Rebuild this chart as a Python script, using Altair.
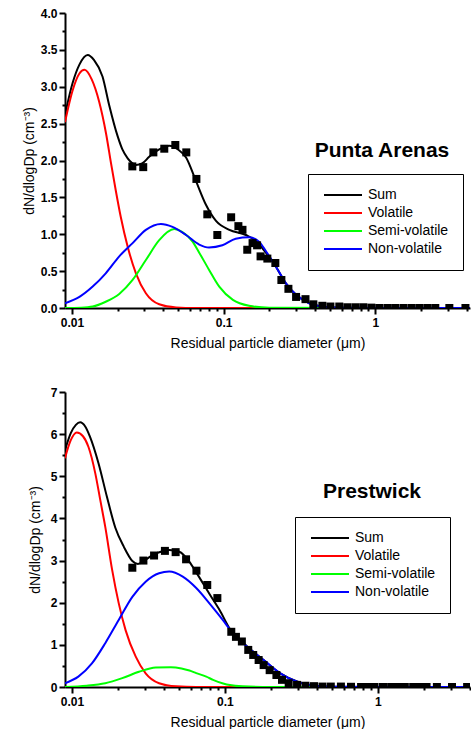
import altair as alt
import pandas as pd

FONT = "Liberation Sans"
SERIES = ["Sum", "Volatile", "Semi-volatile", "Non-volatile"]
COLORS = ["#000000", "#ff0000", "#00ff00", "#0000ff"]
X_TITLE = "Residual particle diameter (\u03bcm)"
Y_TITLE = "dN/dlogDp (cm\u207b\u00b3)"
X_MAJOR = [0.01, 0.1, 1]
X_MINOR = [0.02, 0.03, 0.04, 0.05, 0.06, 0.07, 0.08, 0.09,
           0.2, 0.3, 0.4, 0.5, 0.6, 0.7, 0.8, 0.9, 2, 3, 4]

# ---------------- Punta Arenas ----------------
pa_sum_d = [0.009, 0.0101, 0.0112, 0.0127, 0.0140, 0.0159, 0.0176, 0.0200, 0.0215, 0.0233,
            0.0248, 0.0264, 0.0290, 0.0323, 0.0376, 0.0438, 0.0500, 0.0565, 0.0657, 0.0764,
            0.089, 0.109, 0.140, 0.163, 0.180, 0.221, 0.257, 0.300, 0.367, 0.472, 0.60, 1.0, 4.3]
pa_sum_y = [2.62, 3.05, 3.30, 3.43, 3.36, 3.14, 2.75, 2.33, 2.15, 2.03,
            1.97, 1.94, 1.96, 2.05, 2.15, 2.20, 2.15, 2.04, 1.72, 1.40,
            1.18, 1.06, 0.99, 0.91, 0.81, 0.56, 0.335, 0.18, 0.064, 0.012, 0.002, 0.0, 0.0]
pa_vol_d = [0.009, 0.0101, 0.0112, 0.0121, 0.0135, 0.0151, 0.0168, 0.0181, 0.0195, 0.0210,
            0.0233, 0.0264, 0.0307, 0.0376, 0.0485, 0.065, 4.3]
pa_vol_y = [2.52, 2.95, 3.18, 3.23, 3.10, 2.80, 2.36, 1.96, 1.58, 1.23,
            0.83, 0.47, 0.20, 0.05, 0.008, 0.0, 0.0]
pa_semi_d = [0.009, 0.0115, 0.0137, 0.0167, 0.0205, 0.0251, 0.0307, 0.0376, 0.0472, 0.0535,
             0.0624, 0.069, 0.080, 0.0935, 0.115, 0.147, 0.20, 4.3]
pa_semi_y = [0.0, 0.005, 0.02, 0.085, 0.19, 0.38, 0.65, 0.92, 1.07, 1.03,
             0.90, 0.75, 0.52, 0.29, 0.11, 0.03, 0.003, 0.0]
pa_non_d = [0.009, 0.0112, 0.0137, 0.0167, 0.0205, 0.0251, 0.0307, 0.0386, 0.046, 0.0565,
            0.069, 0.080, 0.098, 0.120, 0.147, 0.171, 0.190, 0.221, 0.257, 0.300,
            0.367, 0.472, 0.60, 1.0, 4.3]
pa_non_y = [0.064, 0.15, 0.29, 0.47, 0.70, 0.88, 1.06, 1.14, 1.10, 0.99,
            0.86, 0.82, 0.85, 0.94, 0.96, 0.90, 0.77, 0.56, 0.335, 0.18,
            0.064, 0.012, 0.002, 0.0, 0.0]
pa_pts_d = [0.0250, 0.0295, 0.0344, 0.0406, 0.048, 0.0567, 0.0661, 0.078, 0.0908, 0.112,
            0.125, 0.133, 0.143, 0.155, 0.166, 0.175, 0.194, 0.219, 0.240, 0.267,
            0.300, 0.346, 0.390, 0.447, 0.505, 0.578, 0.653, 0.738, 0.832, 0.940,
            1.06, 1.20, 1.35, 1.53, 1.73, 1.95, 2.20, 2.48, 3.07, 3.92]
pa_pts_y = [1.92, 1.91, 2.11, 2.16, 2.21, 2.11, 1.75, 1.27, 0.99, 1.23,
            1.11, 1.06, 0.79, 0.88, 0.85, 0.70, 0.67, 0.61, 0.38, 0.26,
            0.15, 0.12, 0.05, 0.03, 0.02, 0.02, 0.01, 0.01, 0.01, 0.005,
            0.0, 0.0, 0.0, 0.0, 0.0, 0.0, 0.0, 0.0, 0.0, 0.0]

# ---------------- Prestwick ----------------
pw_sum_d = [0.009, 0.0098, 0.0106, 0.0113, 0.0122, 0.0131, 0.0149, 0.0169, 0.0192, 0.0218,
            0.0248, 0.0270, 0.0303, 0.0336, 0.0390, 0.0432, 0.0503, 0.0586, 0.0649, 0.0794,
            0.0924, 0.1076, 0.139, 0.179, 0.230, 0.296, 0.382, 0.50, 1.0, 4.3]
pw_sum_y = [5.62, 6.02, 6.22, 6.28, 6.18, 5.94, 5.31, 4.52, 3.78, 3.33,
            2.99, 2.92, 3.02, 3.13, 3.22, 3.25, 3.21, 2.97, 2.72, 2.20,
            1.82, 1.38, 0.97, 0.64, 0.325, 0.13, 0.03, 0.005, 0.0, 0.0]
pw_vol_d = [0.009, 0.0098, 0.01074, 0.0118, 0.0128, 0.0142, 0.0153, 0.0165, 0.0183, 0.0202,
            0.0224, 0.0261, 0.0303, 0.0371, 0.0479, 0.065, 4.3]
pw_vol_y = [5.43, 5.85, 6.04, 5.95, 5.70, 5.07, 4.44, 3.80, 2.78, 1.99,
            1.35, 0.72, 0.325, 0.09, 0.015, 0.0, 0.0]
pw_semi_d = [0.009, 0.0125, 0.0165, 0.0213, 0.0274, 0.0353, 0.0443, 0.0520, 0.0586, 0.0649,
             0.0755, 0.0836, 0.0973, 0.1076, 0.130, 0.20, 4.3]
pw_semi_y = [0.0, 0.03, 0.09, 0.21, 0.36, 0.46, 0.47, 0.44, 0.39, 0.33,
             0.245, 0.17, 0.085, 0.045, 0.015, 0.0, 0.0]
pw_non_d = [0.009, 0.0110, 0.0135, 0.0165, 0.0202, 0.0248, 0.0303, 0.0371, 0.0432, 0.053,
            0.0649, 0.0794, 0.0973, 0.1076, 0.139, 0.179, 0.230, 0.296, 0.382, 0.50,
            1.0, 4.3]
pw_non_y = [0.09, 0.245, 0.56, 1.04, 1.59, 2.14, 2.50, 2.70, 2.74, 2.62,
            2.35, 1.98, 1.58, 1.37, 0.96, 0.64, 0.325, 0.126, 0.03, 0.005,
            0.0, 0.0]
pw_pts_d = [0.0248, 0.0293, 0.0344, 0.0405, 0.0476, 0.0557, 0.0651, 0.0766, 0.0892, 0.110,
            0.118, 0.129, 0.142, 0.153, 0.166, 0.179, 0.196, 0.217, 0.236, 0.261,
            0.296, 0.336, 0.382, 0.434, 0.492, 0.573, 0.667, 0.776, 0.859, 0.951,
            1.08, 1.22, 1.36, 1.50, 1.70, 1.88, 2.08, 2.43, 3.05, 3.83]
pw_pts_y = [2.83, 3.00, 3.12, 3.23, 3.20, 3.03, 2.76, 2.42, 2.11, 1.31,
            1.19, 1.08, 0.88, 0.76, 0.64, 0.52, 0.40, 0.285, 0.17, 0.09,
            0.05, 0.03, 0.02, 0.01, 0.01, 0.01, 0.005, 0.0, 0.0, 0.0,
            0.0, 0.0, 0.0, 0.0, 0.0, 0.0, 0.0, 0.0, 0.0, 0.0]

# legend line glyph: a horizontal stroke that starts at the symbol's left edge
LEGEND_LINE = "M-1,0H6.6"


def panel(curves, pts_d, pts_y, xmax, y_major, y_minor, y_fmt, name, name_xy,
          legend_xy, title_pad):
    rows = []
    for k, (s, (dd, yy)) in enumerate(zip(SERIES, curves)):
        for a, b in zip(dd, yy):
            rows.append({"series": s, "k": k, "d": a, "v": b})
    lines_df = pd.DataFrame(rows)
    pts_df = pd.DataFrame({"d": pts_d, "v": pts_y})

    xscale = alt.Scale(type="log", domain=[0.009, xmax], nice=False)
    yscale = alt.Scale(domain=[y_major[0], y_major[-1]], nice=False, zero=False)

    lines = alt.Chart(lines_df).mark_line(strokeWidth=2, interpolate="monotone", clip=True).encode(
        x=alt.X("d:Q", scale=xscale,
                axis=alt.Axis(values=X_MAJOR, format="~g", title=X_TITLE, orient="bottom",
                              tickSize=6, labelPadding=3, titlePadding=8)),
        y=alt.Y("v:Q", scale=yscale,
                axis=alt.Axis(values=y_major, format=y_fmt, title=Y_TITLE, orient="left",
                              tickSize=6, labelPadding=2, titlePadding=title_pad)),
        color=alt.Color("series:N", sort=SERIES,
                        scale=alt.Scale(domain=SERIES, range=COLORS),
                        legend=alt.Legend(title=None, orient="none", direction="vertical",
                                          legendX=legend_xy[0], legendY=legend_xy[1],
                                          symbolType=LEGEND_LINE, symbolSize=100,
                                          symbolStrokeWidth=2, labelFont=FONT,
                                          labelFontSize=14, labelColor="black",
                                          labelOffset=32, padding=14, rowPadding=4,
                                          strokeColor="black", fillColor="white")),
        detail="k:O",
    )

    pts = alt.Chart(pts_df).mark_square(size=64, color="black", opacity=1, clip=True).encode(
        x=alt.X("d:Q", scale=xscale,
                axis=alt.Axis(values=X_MINOR, labels=False, domain=False, title=None,
                              orient="bottom", tickSize=3)),
        y=alt.Y("v:Q", scale=yscale,
                axis=alt.Axis(values=y_minor, labels=False, domain=False, title=None,
                              orient="left", tickSize=3)),
    )

    label = alt.Chart(pd.DataFrame({"name": [name]})).mark_text(
        font=FONT, fontSize=21, fontWeight="bold", color="black", align="center",
        baseline="middle").encode(
        text="name:N", x=alt.value(name_xy[0]), y=alt.value(name_xy[1]))

    return alt.layer(lines, pts, label).resolve_axis(x="independent", y="independent").properties(
        width=405, height=295)


top = panel([(pa_sum_d, pa_sum_y), (pa_vol_d, pa_vol_y), (pa_semi_d, pa_semi_y),
             (pa_non_d, pa_non_y)],
            pa_pts_d, pa_pts_y, 4.2,
            [0, 0.5, 1.0, 1.5, 2.0, 2.5, 3.0, 3.5, 4.0],
            [0.25, 0.75, 1.25, 1.75, 2.25, 2.75, 3.25, 3.75], ".1f",
            "Punta Arenas", (317, 138), (243, 161), 4)

bottom = panel([(pw_sum_d, pw_sum_y), (pw_vol_d, pw_vol_y), (pw_semi_d, pw_semi_y),
                (pw_non_d, pw_non_y)],
               pw_pts_d, pw_pts_y, 4.0,
               [0, 1, 2, 3, 4, 5, 6, 7],
               [0.5, 1.5, 2.5, 3.5, 4.5, 5.5, 6.5], "d",
               "Prestwick", (307, 100), (230, 125), 8)

chart = alt.vconcat(top, bottom, spacing=84, bounds="flush").resolve_scale(
    x="independent", y="independent").resolve_legend(color="independent").properties(
    padding={"left": 22, "top": 7, "right": 0, "bottom": 0}
).configure_view(stroke=None).configure_axis(
    grid=False, domainColor="black", domainWidth=2, tickColor="black", tickWidth=2,
    labelFont=FONT, labelFontSize=12, labelFontWeight="bold", labelColor="black",
    titleFont=FONT, titleFontSize=14, titleFontWeight="normal", titleColor="black",
)

chart.save("out.html", embed_options={"renderer": "svg", "actions": False})
